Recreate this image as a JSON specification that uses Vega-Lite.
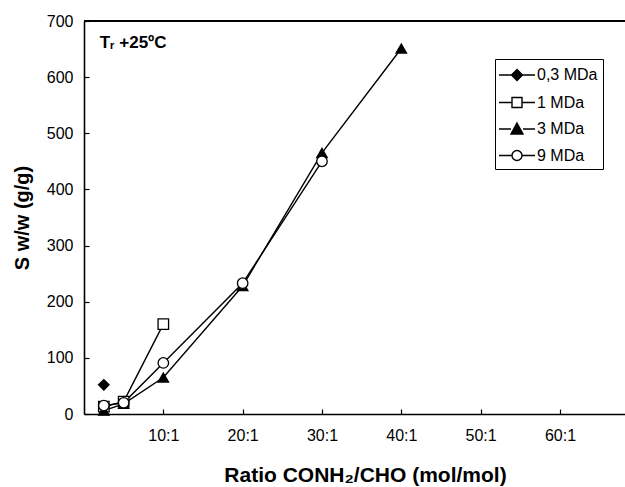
{
  "$schema": "https://vega.github.io/schema/vega-lite/v6.json",
  "width": 541,
  "height": 393,
  "autosize": {"type": "none"},
  "padding": {"left": 84, "top": 21, "right": 0, "bottom": 73},
  "background": "white",
  "config": {
    "view": {"stroke": null},
    "font": "Liberation Sans",
    "axis": {"grid": false, "domainColor": "black", "domainWidth": 1.6, "tickColor": "black", "tickWidth": 1.2, "tickSize": -5, "labelColor": "black", "labelFont": "Liberation Sans", "labelFontSize": 16, "titleFont": "Liberation Sans", "titleFontSize": 20, "titleFontWeight": "bold", "titleColor": "black"},
    "legend": {"symbolSize": 400, "symbolOffset": 6, "symbolStrokeWidth": 1.4, "symbolStrokeColor": "black", "symbolOpacity": 1, "labelFontSize": 16, "labelFont": "Liberation Sans", "labelColor": "black", "labelOffset": 9, "rowPadding": 7.5, "strokeColor": "black", "fillColor": "white", "padding": 5}
  },
  "datasets": {
    "pts": [
      {"series": "0,3 MDa", "x": 2.5, "y": 52},
      {"series": "1 MDa", "x": 2.5, "y": 13},
      {"series": "1 MDa", "x": 5, "y": 22},
      {"series": "1 MDa", "x": 10, "y": 160},
      {"series": "3 MDa", "x": 2.5, "y": 6},
      {"series": "3 MDa", "x": 5, "y": 18},
      {"series": "3 MDa", "x": 10, "y": 65},
      {"series": "3 MDa", "x": 20, "y": 228},
      {"series": "3 MDa", "x": 30, "y": 465},
      {"series": "3 MDa", "x": 40, "y": 651},
      {"series": "9 MDa", "x": 2.5, "y": 15},
      {"series": "9 MDa", "x": 5, "y": 20},
      {"series": "9 MDa", "x": 10, "y": 91},
      {"series": "9 MDa", "x": 20, "y": 233},
      {"series": "9 MDa", "x": 30, "y": 450}
    ]
  },
  "layer": [
    {
      "data": {"values": [{"y": 700}]},
      "mark": {"type": "rule", "color": "black", "strokeWidth": 2},
      "encoding": {"y": {"field": "y", "type": "quantitative"}}
    },
    {
      "data": {"name": "pts"},
      "mark": {"type": "line", "color": "black", "strokeWidth": 1.4},
      "encoding": {
        "x": {"field": "x", "type": "quantitative", "scale": {"domain": [0, 68.2], "nice": false},
          "axis": {"values": [10, 20, 30, 40, 50, 60], "labelExpr": "datum.value + ':1'", "labelPadding": 18, "title": "Ratio CONH₂/CHO (mol/mol)", "titlePadding": 21, "titleFontSize": 21, "titleX": 281}},
        "y": {"field": "y", "type": "quantitative", "scale": {"domain": [0, 700], "nice": false},
          "axis": {"values": [0, 100, 200, 300, 400, 500, 600, 700], "labelPadding": 16, "title": "S w/w  (g/g)", "titlePadding": 14}},
        "detail": {"field": "series"}
      }
    },
    {
      "data": {"name": "pts"},
      "transform": [{"filter": "datum.series === '0,3 MDa'"}],
      "mark": {"type": "point", "shape": "diamond", "filled": true, "fill": "black", "stroke": "black", "strokeWidth": 1.3, "size": 110, "opacity": 1},
      "encoding": {"x": {"field": "x", "type": "quantitative"}, "y": {"field": "y", "type": "quantitative"}}
    },
    {
      "data": {"name": "pts"},
      "transform": [{"filter": "datum.series === '1 MDa'"}],
      "mark": {"type": "point", "shape": "square", "filled": true, "fill": "white", "stroke": "black", "strokeWidth": 1.3, "size": 110, "opacity": 1},
      "encoding": {"x": {"field": "x", "type": "quantitative"}, "y": {"field": "y", "type": "quantitative"}}
    },
    {
      "data": {"name": "pts"},
      "transform": [{"filter": "datum.series === '3 MDa'"}],
      "mark": {"type": "point", "shape": "triangle-up", "filled": true, "fill": "black", "stroke": "black", "strokeWidth": 1.3, "size": 110, "opacity": 1},
      "encoding": {"x": {"field": "x", "type": "quantitative"}, "y": {"field": "y", "type": "quantitative"}}
    },
    {
      "data": {"name": "pts"},
      "transform": [{"filter": "datum.series === '9 MDa'"}],
      "mark": {"type": "point", "shape": "circle", "filled": true, "fill": "white", "stroke": "black", "strokeWidth": 1.3, "size": 110, "opacity": 1},
      "encoding": {"x": {"field": "x", "type": "quantitative"}, "y": {"field": "y", "type": "quantitative"}}
    },
    {
      "data": {"name": "pts"},
      "transform": [{"filter": "datum.y < 0"}],
      "mark": {"type": "point", "filled": false, "color": "black", "stroke": "black", "strokeWidth": 1.4, "opacity": 1, "size": 400},
      "encoding": {
        "x": {"field": "x", "type": "quantitative"},
        "y": {"field": "y", "type": "quantitative"},
        "shape": {"field": "series", "type": "nominal",
          "scale": {"domain": ["0,3 MDa", "1 MDa", "3 MDa", "9 MDa"], "range": [
            "M-1.8,0H-0.55M0.55,0H1.8M0,-0.55L0.55,0L0,0.55L-0.55,0Z",
            "M-1.8,0H-0.5M0.5,0H1.8M-0.5,-0.5H0.5V0.5H-0.5Z",
            "M-1.8,0H-0.6M0.6,0H1.8M0,-0.6L0.6,0.5H-0.6Z",
            "M-1.8,0H-0.5M0.5,0H1.8M0.5,0A0.5,0.5,0,1,1,-0.5,0A0.5,0.5,0,1,1,0.5,0Z"
          ]},
          "legend": {"title": null, "orient": "none", "legendX": 411, "legendY": 38,
            "encode": {"symbols": {"update": {"stroke": {"value": "black"}, "strokeWidth": {"value": 1.4}, "opacity": {"value": 1}}}}}},
        "fill": {"field": "series", "type": "nominal",
          "scale": {"domain": ["0,3 MDa", "1 MDa", "3 MDa", "9 MDa"], "range": ["black", "white", "black", "white"]},
          "legend": {"title": null, "orient": "none", "legendX": 411, "legendY": 38,
            "encode": {"symbols": {"update": {"stroke": {"value": "black"}, "strokeWidth": {"value": 1.4}, "opacity": {"value": 1}}}}}}
      }
    },
    {
      "data": {"values": [{"x": 2.0, "y": 661, "label": "Tᵣ +25ºC"}]},
      "mark": {"type": "text", "align": "left", "baseline": "middle", "fontSize": 17, "fontWeight": "bold", "font": "Liberation Sans", "color": "black"},
      "encoding": {
        "x": {"field": "x", "type": "quantitative"},
        "y": {"field": "y", "type": "quantitative"},
        "text": {"field": "label"}
      }
    }
  ]
}
